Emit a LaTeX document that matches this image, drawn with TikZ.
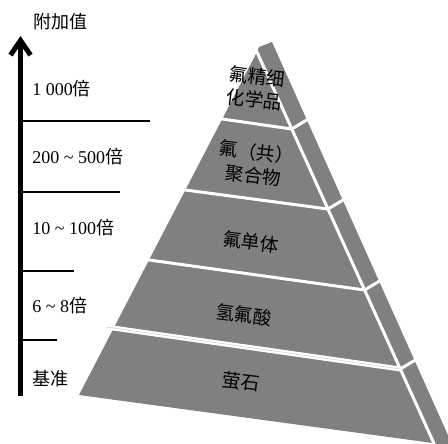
\documentclass[tikz,border=0pt]{standalone}
\usepackage{fontspec}
\setmainfont{Liberation Serif}
\newfontfamily\cjk{Noto Sans CJK SC}
\usetikzlibrary{arrows.meta}
\begin{document}
\begin{tikzpicture}[x=0.75pt,y=-0.75pt,
  lbl/.style={anchor=west,inner sep=0pt,font=\fontsize{13.5}{16}\selectfont},
  tier/.style={inner sep=0pt,align=center,rotate=-7,font=\cjk\fontsize{14}{17.5}\selectfont},
  gap/.style={white,line width=2.25pt},
  tick/.style={line width=1.5pt}]
\useasboundingbox (0,0) rectangle (448,443);
\begin{scope}
\clip (0,0) rectangle (448,443);
% pyramid outline
\coordinate (A) at (257,52);
\coordinate (BL) at (79,395);
\coordinate (BR) at (433,443);
\coordinate (STL) at (259,47);
\coordinate (STR) at (272,42);
\fill[gray] (BL) -- (A) -- (STL) -- (STR) -- (477,500) -- (460,500) -- (BR) -- cycle;
% right edge gap
\coordinate (G1) at (252,41);
\coordinate (G2) at (460,501);
\draw[gap] (G1) -- (G2);
% tier boundaries
\coordinate (L1) at (215,118);   \coordinate (R1) at (291.8,129);
\coordinate (L2) at (178,189);   \coordinate (R2) at (328,209);
\coordinate (L3) at (142,259);   \coordinate (R3) at (364.6,290);
\coordinate (L4) at (106,327);   \coordinate (R4) at (400.3,369);
\draw[gap] (L1) -- (R1) -- ++(30,-18);
\draw[gap] (L2) -- (R2) -- ++(30,-18);
\draw[gap] (L3) -- (R3) -- ++(30,-18);
\draw[white,line width=3.75pt] (L4) -- (R4);
\draw[gray!35,line width=0.4pt] (L4) -- (R4);
\draw[gap] (R4) -- ++(30,-18);
\end{scope}
% tier labels
\node[tier] (t1) at (256,88) {氟精细\\化学品};
\node[tier] (t2) at (255,164) {氟（共）\\聚合物};
\node[tier] (t3) at (251,242) {氟单体};
\node[tier] (t4) at (244,315) {氢氟酸};
\node[tier] (t5) at (241,382) {萤石};
% axis
\coordinate (axb) at (20.5,396);
\coordinate (axt) at (20.5,36);
\draw[line width=3.75pt,-{Straight Barb[length=11pt,width=15pt]}] (axb) -- (axt);
\coordinate (k1) at (20.5,120.5); \coordinate (e1) at (150,120.5);
\coordinate (k2) at (20.5,191.5); \coordinate (e2) at (120,191.5);
\coordinate (k3) at (20.5,271);   \coordinate (e3) at (74,271);
\coordinate (k4) at (20.5,340);   \coordinate (e4) at (57,340);
\draw[tick] (k1) -- (e1);
\draw[tick] (k2) -- (e2);
\draw[tick] (k3) -- (e3);
\draw[tick] (k4) -- (e4);
% axis labels
\node[lbl] (ttl) at (33,22) {\cjk 附加值};
\node[lbl] (v1) at (32,89) {1 000{\cjk 倍}};
\node[lbl] (v2) at (32,157) {200 \char`\~{} 500{\cjk 倍}};
\node[lbl] (v3) at (32,228) {10 \char`\~{} 100{\cjk 倍}};
\node[lbl] (v4) at (32,306) {6 \char`\~{} 8{\cjk 倍}};
\node[lbl] (v5) at (32,379) {\cjk 基准};
\end{tikzpicture}
\end{document}
